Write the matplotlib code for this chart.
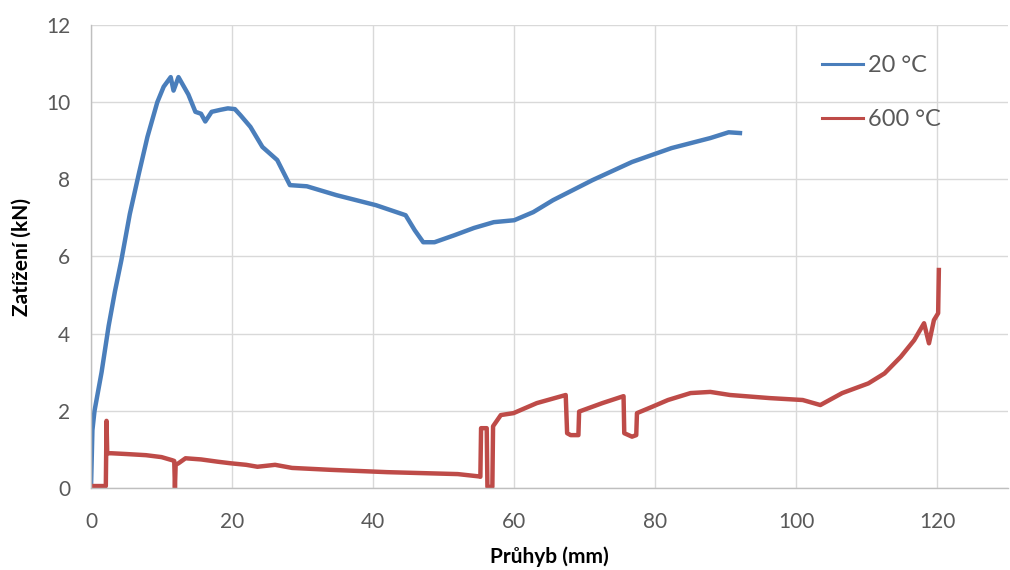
import matplotlib
matplotlib.use("Agg")
import matplotlib.pyplot as plt

# Load–deflection curves (deflection in mm, load in kN)
x_20 = [0.0, 0.2, 0.5, 1.5, 2.5, 3.4, 4.3, 5.5, 6.8, 8.0, 9.4, 10.3, 11.3, 11.7, 12.4,
        13.8, 14.8, 15.6, 16.2, 17.1, 18.3, 19.4, 20.4, 21.2, 22.6, 24.3, 26.4, 28.2,
        30.6, 34.8, 40.4, 44.6, 45.9, 47.1, 48.7, 51.5, 54.3, 57.1, 60.0, 62.7, 65.5,
        71.1, 76.7, 82.3, 87.8, 90.4, 92.0]
y_20 = [0.0, 1.5, 2.0, 3.0, 4.2, 5.1, 5.9, 7.1, 8.16, 9.1, 10.0, 10.4, 10.65, 10.3, 10.65,
        10.2, 9.75, 9.7, 9.5, 9.75, 9.8, 9.84, 9.82, 9.66, 9.36, 8.84, 8.5, 7.85,
        7.82, 7.59, 7.33, 7.07, 6.68, 6.37, 6.37, 6.55, 6.74, 6.89, 6.94, 7.15, 7.46,
        7.98, 8.45, 8.81, 9.07, 9.22, 9.2]

x_600 = [0.0, 2.1, 2.2, 2.3, 2.9, 5.0, 7.8, 10.0, 11.5, 11.8, 11.9, 12.0, 12.4, 13.4,
         15.6, 18.0, 19.8, 22.0, 23.6, 26.1, 28.5, 34.0, 42.0, 48.0, 52.0, 55.0, 55.2,
         55.3, 56.1, 56.2, 56.9, 57.0, 58.1, 59.9, 63.2, 67.3, 67.5, 68.0, 69.1, 69.2,
         72.5, 75.5, 75.6, 76.7, 77.3, 77.4, 79.5, 81.8, 85.0, 87.8, 90.6, 96.2, 100.9,
         103.4, 106.5, 110.2, 112.5, 114.8, 116.7, 118.1, 118.8, 119.5, 120.1, 120.2]
y_600 = [0.05, 0.05, 1.74, 0.9, 0.9, 0.88, 0.85, 0.8, 0.72, 0.7, 0.0, 0.6, 0.64, 0.77,
         0.74, 0.68, 0.64, 0.6, 0.55, 0.6, 0.52, 0.47, 0.41, 0.38, 0.36, 0.3, 0.29,
         1.55, 1.55, 0.03, 0.03, 1.6, 1.89, 1.94, 2.2, 2.41, 1.42, 1.37, 1.37, 1.98,
         2.2, 2.38, 1.42, 1.33, 1.37, 1.94, 2.1, 2.28, 2.46, 2.49, 2.41, 2.33, 2.28,
         2.15, 2.46, 2.71, 2.97, 3.4, 3.83, 4.27, 3.75, 4.35, 4.53, 5.65]

series_labels = ["20 °C", "600 °C"]
x_ticks = [0, 20, 40, 60, 80, 100, 120]
y_ticks = [0, 2, 4, 6, 8, 10, 12]

plt.rcParams['font.family'] = ['Lato', 'DejaVu Sans']

fig = plt.figure(figsize=(10.1, 5.7), dpi=100)
ax = fig.add_axes([0.0901, 0.1439, 0.9079, 0.8122])

blue = "#4A7EBB"
red = "#BE4B48"
ax.plot(x_20, y_20, color=blue, lw=3.2, label=series_labels[0], solid_joinstyle='round')
ax.plot(x_600, y_600, color=red, lw=3.2, label=series_labels[1], solid_joinstyle='round')

ax.set_xlim(0, 130)
ax.set_ylim(0, 12)
ax.set_xticks(x_ticks)
ax.set_yticks(y_ticks)
ax.grid(True, color="#D9D9D9", lw=1.0)
ax.set_axisbelow(True)
for side in ["top", "right"]:
    ax.spines[side].set_visible(False)
for side in ["left", "bottom"]:
    ax.spines[side].set_color("#BFBFBF")
    ax.spines[side].set_linewidth(1.0)
ax.tick_params(length=0, labelsize=15, labelcolor="#595959")
ax.tick_params(axis='x', pad=17)
ax.tick_params(axis='y', pad=15)

ax.set_xlabel("Průhyb (mm)", fontsize=15, fontweight="bold", color="#000000", labelpad=11)
ax.set_ylabel("Zatížení (kN)", fontsize=15, fontweight="bold", color="#000000", labelpad=10)

leg = ax.legend(loc="upper left", bbox_to_anchor=(0.797, 0.935), frameon=False,
                fontsize=17, handlelength=1.75, labelspacing=1.4, handletextpad=0.2,
                borderaxespad=0.0, borderpad=0.0)
for t in leg.get_texts():
    t.set_color("#595959")
for ln in leg.get_lines():
    ln.set_linewidth(2.2)

fig.savefig("out.png", dpi=100, facecolor="white")
